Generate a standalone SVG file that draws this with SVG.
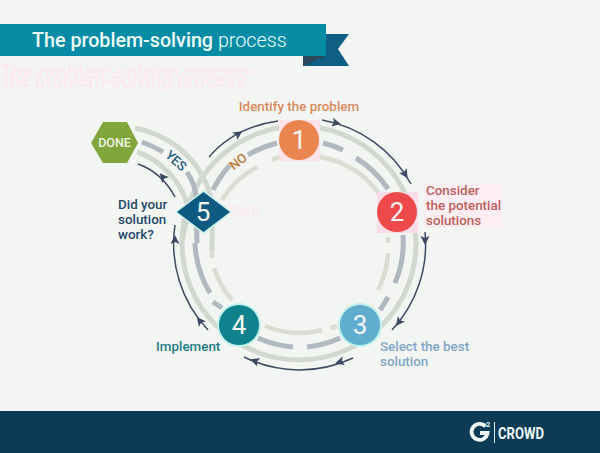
<svg xmlns="http://www.w3.org/2000/svg" width="600" height="453" viewBox="0 0 600 453">
<style>
text{font-family:Roboto,"Liberation Sans",sans-serif}
.o{fill:none;stroke:#d3d8cf;stroke-width:5}
.m{fill:none;stroke:#b0b8c0;stroke-width:5}
.i{fill:none;stroke:#d9ddd2;stroke-width:4.5}
.a{fill:none;stroke:#3c4a63;stroke-width:1.5}
.n{font-size:26px;font-weight:400;fill:#f4f7f2;text-anchor:middle}
.l{font-size:13.4px;font-weight:500}
.g{fill:#ffe6f2}
</style>
<defs><polygon id="h" points="5,0 -4,-4.5 -2,0 -4,4.5" fill="#3c4a63"/><clipPath id="c"><rect x="0" y="60" width="300" height="15"/></clipPath></defs>
<rect width="600" height="453" fill="#f2f5f1"/>
<g id="ghost-text">
<text class="g" x="0" y="79" font-size="19.8" clip-path="url(#c)">The problem-solving process</text>
<text class="g" x="3" y="87" font-size="19.3">the problem-solving process</text>
<text class="g" x="208" y="215" font-size="14">problem</text>
</g>
<g id="banner">
<polygon points="303,34 349,34 338,49 349,66 303,66" fill="#0f5f85"/>
<polygon points="303,56 326,56 303,66" fill="#2b4a5c"/>
<rect x="0" y="24" width="326" height="32" fill="#078ca5"/>
<text x="32" y="47" font-size="19.7" font-weight="500" fill="#eefcf8">The problem-solving <tspan font-weight="300">process</tspan></text>
</g>
<g id="connectors">
<circle class="o" cx="299" cy="243" r="117"/>
<path class="o" d="M135,128C165,134 190,152 203,177S212,215 212,250"/>
<path class="m" d="M142,142Q153,146 163,152M187,172C192,180 195,186 196,195L197,243"/>
<path class="o" d="M137,152C150,156 172,170 183,193S183,225 182,243"/>
<path class="m" d="M213,190A104,104 0 0 1 230,165M248,155A104,104 0 0 1 277,143M323,143A104,104 0 0 1 343,150M356,158A104,104 0 0 1 388,189M403,235A104,104 0 0 1 395,283M388,297A104,104 0 0 1 380,310M340,338A104,104 0 0 1 307,347M293,347A104,104 0 0 1 258,338M222,308L213,302M210,293A104,104 0 0 1 195,243"/>
<path class="i" d="M222,200A89,89 0 0 1 257,167M272,160A89,89 0 0 1 282,156M320,157A89,89 0 0 1 383,200M388,237L388,243M388,253A89,89 0 0 1 378,290M337,326L330,328M322,330A89,89 0 0 1 265,326M232,300A89,89 0 0 1 214,268M212,258L212,250"/>
<path class="a" d="M322,120A126,126 0 0 1 411,184M425,232A126,126 0 0 1 392,330M353,358A126,126 0 0 1 244,357M208,330A126,126 0 0 1 175,225M175,197C167,182 155,170 138,164M209,157C227,136 250,125 278,121"/>
<use href="#h" transform="translate(336,123) rotate(12)"/>
<use href="#h" transform="translate(405,174) rotate(58)"/>
<use href="#h" transform="translate(425,240) rotate(90)"/>
<use href="#h" transform="translate(399,322) rotate(128)"/>
<use href="#h" transform="translate(340,362) rotate(165)"/>
<use href="#h" transform="translate(255,361) rotate(200)"/>
<use href="#h" transform="translate(200,321) rotate(-128)"/>
<use href="#h" transform="translate(175,240) rotate(-90)"/>
<use href="#h" transform="translate(163,177) rotate(-130)"/>
<use href="#h" transform="translate(238,134) rotate(-35)"/>
</g>
<g id="node-1"><rect x="279" y="120" width="41" height="41" fill="#fbe3ea"/><circle cx="299" cy="140" r="20" fill="#ea8550"/><text class="n" x="299" y="149">1</text><text class="l" x="299" y="111" text-anchor="middle" fill="#d98a5e">Identify the problem</text></g>
<g id="node-2"><rect x="377" y="192" width="41" height="41" fill="#fbdde8"/><circle cx="397" cy="212" r="20" fill="#ee4a4c"/><text class="n" x="397" y="221">2</text><rect x="424" y="184" width="78" height="44" fill="#fdeef3"/><text class="l" fill="#bd5f5a"><tspan x="426" y="195">Consider</tspan><tspan x="426" y="210">the potential</tspan><tspan x="426" y="225">solutions</tspan></text></g>
<g id="node-3"><circle cx="360" cy="325" r="22" fill="#bff2ea"/><circle cx="360" cy="325" r="20" fill="#61add0"/><text class="n" x="360" y="334">3</text><text class="l" fill="#7fa6c8"><tspan x="380" y="351">Select the best</tspan><tspan x="380" y="366">solution</tspan></text></g>
<g id="node-4"><circle cx="239" cy="325" r="22" fill="#bff2ea"/><circle cx="239" cy="325" r="20" fill="#0f828e"/><text class="n" x="239" y="334">4</text><text class="l" x="156" y="351" fill="#1f7c87">Implement</text></g>
<g id="node-5"><polygon points="203.5,190 232,212 203.5,234 175,212" fill="#c7f4ee"/><polygon points="203.5,192 230,212 203.5,232 177,212" fill="#0f5a80"/><text class="n" x="203" y="221">5</text><text class="l" fill="#26496f"><tspan x="118" y="209">Did your</tspan><tspan x="118" y="224">solution</tspan><tspan x="118" y="239">work?</tspan></text></g>
<g id="node-done"><polygon points="91,143 103,122 127,122 138,143 127,163 103,163" fill="#81a63c"/><text x="114.5" y="147" font-size="12.5" font-weight="500" fill="#eef5e0" text-anchor="middle">DONE</text></g>
<g id="labels">
<text font-size="13" font-weight="500" fill="#1f5f80" text-anchor="middle" transform="translate(173,164) rotate(42)">YES</text>
<text font-size="13" font-weight="500" fill="#c17c3d" text-anchor="middle" transform="translate(241,165) rotate(-38)">NO</text>
</g>
<g id="footer"><rect y="411" width="600" height="42" fill="#0d3b56"/>
<path d="M485.5,426.5A8,8 0 1 0 487.5,433H480" fill="none" stroke="#eef8f6" stroke-width="3.8"/>
<text x="486" y="427" font-size="7.5" font-weight="700" fill="#eef8f6">2</text>
<rect x="494" y="422" width="1" height="21" fill="#dfeeee"/>
<text x="498" y="439" font-size="16" font-weight="700" fill="#eef8f6" textLength="46" lengthAdjust="spacingAndGlyphs">CROWD</text></g>
</svg>
